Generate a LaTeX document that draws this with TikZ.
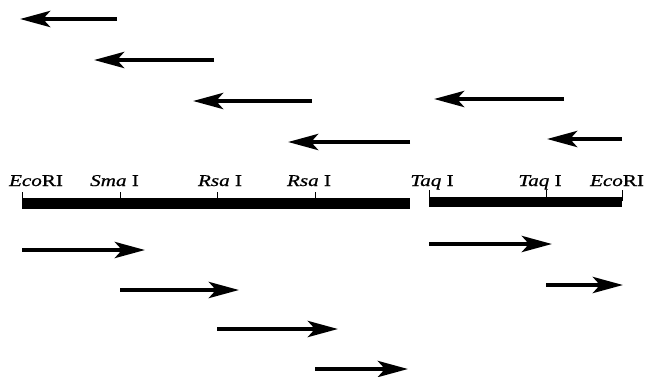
\documentclass[tikz,border=0pt]{standalone}
\usepackage{fontspec}
\setmainfont{Liberation Serif}
\newfontfamily\sitefamily{Liberation Serif}[FakeStretch=1.28,FakeBold=0.8]
\usetikzlibrary{arrows.meta}
\newcommand{\sitefont}{\sitefamily\fontsize{16.5}{20}\selectfont}
\begin{document}
\begin{tikzpicture}[x=1pt,y=-1pt,
  frag/.style={line width=4.5pt,-{Stealth[length=30pt,width=16pt,inset=7pt]}},
  barline/.style={line width=10.5pt},
  tick/.style={line width=0.8pt},
  site/.style={anchor=base,inner sep=0pt}]
\useasboundingbox (0,0) rectangle (648,376);
% map bars
\coordinate (b1s) at (22,203.5);
\coordinate (b1e) at (410,203.5);
\coordinate (b2s) at (429,202);
\coordinate (b2e) at (622,202);
\draw[barline] (b1s) -- (b1e);
\draw[barline] (b2s) -- (b2e);
% ticks
\foreach \x/\y in {22/203,120/203,217/203,315/203,429/201,546/201,622/201}
  \draw[tick] (\x,\y) -- (\x,\y-11);
% labels
\node[site] (l1) at (36,186) {\sitefont\textit{Eco}RI};
\node[site] (l2) at (114.5,186) {\sitefont\textit{Sma} I};
\node[site] (l3) at (220,186) {\sitefont\textit{Rsa} I};
\node[site] (l4) at (309,186) {\sitefont\textit{Rsa} I};
\node[site] (l5) at (432,186) {\sitefont\textit{Taq} I};
\node[site] (l6) at (540,186) {\sitefont\textit{Taq} I};
\node[site] (l7) at (617,186) {\sitefont\textit{Eco}RI};
% leftward arrows
\coordinate (r1a) at (117,19);  \coordinate (r1b) at (20,19);
\coordinate (r2a) at (214,60);  \coordinate (r2b) at (94,60);
\coordinate (r3a) at (312,101); \coordinate (r3b) at (193,101);
\coordinate (r4a) at (410,142); \coordinate (r4b) at (288,142);
\coordinate (r5a) at (564,99);  \coordinate (r5b) at (434,99);
\coordinate (r6a) at (622,139); \coordinate (r6b) at (547,139);
\foreach \i in {1,...,6} \draw[frag] (r\i a) -- (r\i b);
% rightward arrows
\coordinate (f1a) at (22,250);  \coordinate (f1b) at (145,250);
\coordinate (f2a) at (120,290); \coordinate (f2b) at (239,290);
\coordinate (f3a) at (217,329); \coordinate (f3b) at (338,329);
\coordinate (f4a) at (315,369); \coordinate (f4b) at (408,369);
\coordinate (f5a) at (429,244); \coordinate (f5b) at (552,244);
\coordinate (f6a) at (546,285); \coordinate (f6b) at (623,285);
\foreach \i in {1,...,6} \draw[frag] (f\i a) -- (f\i b);
\end{tikzpicture}
\end{document}
